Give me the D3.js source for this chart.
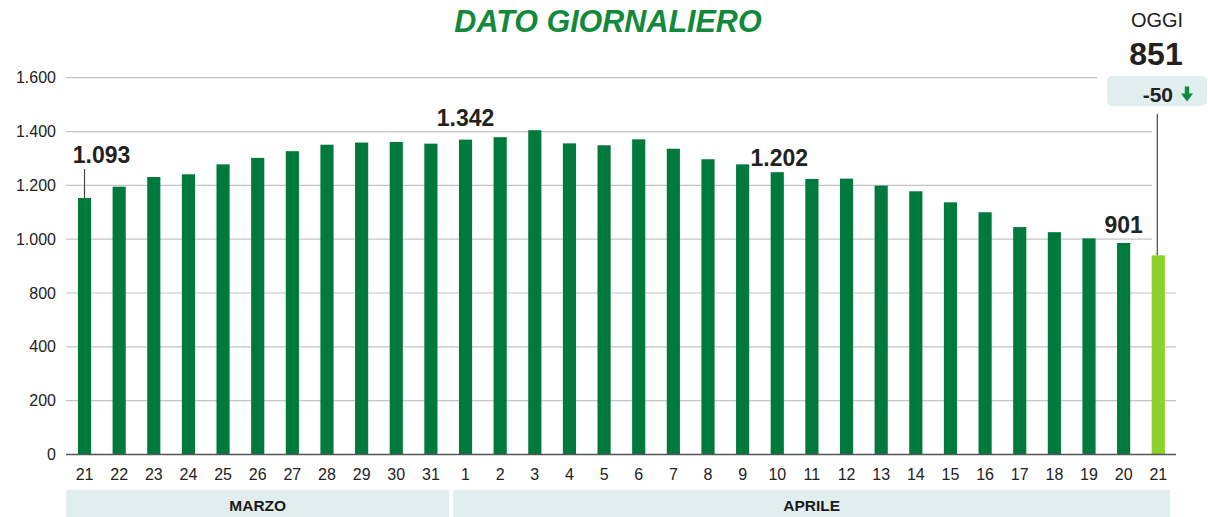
<!DOCTYPE html>
<html>
<head>
<meta charset="utf-8">
<script src="https://cdn.jsdelivr.net/npm/d3@7"></script>
<style>
  html, body { margin: 0; padding: 0; background: #fff; }
  svg { display: block; font-family: "Liberation Sans", Arial, Helvetica, sans-serif; }
</style>
</head>
<body>
<div id="chart"></div>
<script>
// daily values, 21 March -> 21 April
const days = ['21', '22', '23', '24', '25', '26', '27', '28', '29', '30', '31',
  '1', '2', '3', '4', '5', '6', '7', '8', '9', '10', '11', '12', '13', '14', '15',
  '16', '17', '18', '19', '20', '21'];
const values = [1153, 1195, 1231, 1241, 1278, 1302, 1327, 1351, 1359, 1361, 1355,
  1370, 1379, 1405, 1356, 1349, 1371, 1336, 1297, 1278, 1249, 1224, 1225, 1199,
  1178, 1137, 1100, 1045, 1026, 1003, 986, 940];
const yTicks = [0, 200, 400, 800, 1000, 1200, 1400, 1600];

const months = ['MARZO', 'APRILE'];
const monthFirst = [0, 11];
const monthLast = [10, 31];

// labelled bars
const noteIndex = [0, 11, 20, 30];
const noteValue = [1093, 1342, 1202, 901];

const todayValue = 851;
const todayDelta = -50;

const width = 1208;
const height = 517;
const green = '#007a3c';
const lime = '#8ed12c';
const boxFill = '#e1eeef';

const fmt = d3.formatLocale({ decimal: ',', thousands: '.', grouping: [3], currency: ['', '€'] }).format(',');

const svg = d3.select('#chart').append('svg')
  .attr('width', width)
  .attr('height', height);

const x = d3.scaleBand()
  .domain(d3.range(days.length))
  .range([67.2, 1175.6])
  .paddingInner(0.62)
  .paddingOuter(0.31);

const plotBottom = 454.5;
const plotTop = 77.7;
const y = d3.scaleLinear()
  .domain(yTicks)
  .range(yTicks.map((d, i) => plotBottom - i * (plotBottom - plotTop) / (yTicks.length - 1)));

const last = days.length - 1;
const cx = i => x(i) + x.bandwidth() / 2;
const leaderX = cx(last) - 1;
const boxLeft = 1107;

// gridlines
svg.append('g')
  .selectAll('line')
  .data(yTicks.filter(d => d > 0))
  .join('line')
  .attr('x1', 66)
  .attr('x2', d => {
    if (y(d) < 110) return boxLeft - 10;
    if (y(d) < y(values[last])) return leaderX - 5;
    return 1176;
  })
  .attr('y1', d => y(d))
  .attr('y2', d => y(d))
  .attr('stroke', '#c4c4c4')
  .attr('stroke-width', 1.2);

// y axis labels
const yAxis = svg.append('g')
  .attr('transform', 'translate(56,0)')
  .call(d3.axisLeft(y).tickValues(yTicks).tickSize(0).tickPadding(0).tickFormat(fmt));
yAxis.select('.domain').remove();
yAxis.selectAll('text')
  .attr('font-size', 16)
  .attr('font-family', '"Liberation Sans", Arial, sans-serif')
  .attr('fill', '#222');

// bars
svg.append('g')
  .selectAll('rect')
  .data(values)
  .join('rect')
  .attr('x', (d, i) => x(i))
  .attr('y', d => y(d))
  .attr('width', x.bandwidth())
  .attr('height', d => plotBottom - y(d))
  .attr('fill', (d, i) => i === last ? lime : green);

// baseline
svg.append('line')
  .attr('x1', 66).attr('x2', 1176)
  .attr('y1', plotBottom).attr('y2', plotBottom)
  .attr('stroke', '#555')
  .attr('stroke-width', 1.5);

// x axis labels
const xAxis = svg.append('g')
  .attr('transform', `translate(0,${plotBottom})`)
  .call(d3.axisBottom(x).tickSize(0).tickPadding(0).tickFormat(i => days[i]));
xAxis.select('.domain').remove();
xAxis.selectAll('text')
  .attr('dy', null)
  .attr('y', 25.5)
  .attr('font-size', 16)
  .attr('font-family', '"Liberation Sans", Arial, sans-serif')
  .attr('fill', '#222');

// month bands
const leftEdge = i => x(i) + x.bandwidth() / 2 - x.step() / 2;
const rightEdge = i => x(i) + x.bandwidth() / 2 + x.step() / 2;
const monthG = svg.append('g');
months.forEach((m, k) => {
  const x0 = k === 0 ? leftEdge(monthFirst[k]) - 1 : leftEdge(monthFirst[k]) + 5;
  const x1 = k === months.length - 1 ? rightEdge(monthLast[k]) - 5.5 : rightEdge(monthLast[k]) + 1;
  monthG.append('rect')
    .attr('x', x0).attr('y', 489.7)
    .attr('width', x1 - x0).attr('height', height - 489.7)
    .attr('fill', boxFill);
  monthG.append('text')
    .attr('x', (x0 + x1) / 2).attr('y', 510.5)
    .attr('text-anchor', 'middle')
    .attr('font-size', 15.5)
    .attr('font-weight', 'bold')
    .attr('fill', '#1a1a1a')
    .text(m);
});

// value notes
const notes = svg.append('g');
noteIndex.forEach((idx, k) => {
  let tx = cx(idx);
  let ty = y(values[idx]) - 10;
  if (k === 0) {
    tx = cx(idx) + 17;
    ty = y(values[idx]) - 35;
    notes.append('line')
      .attr('x1', cx(idx)).attr('x2', cx(idx))
      .attr('y1', ty + 6).attr('y2', y(values[idx]))
      .attr('stroke', '#444').attr('stroke-width', 1.2);
  } else if (k === 1) {
    ty = y(values[idx]) - 13.5;
  } else if (k === 2) {
    tx = cx(idx) + 2;
    ty = y(values[idx]) - 6;
  }
  notes.append('text')
    .attr('x', tx).attr('y', ty)
    .attr('text-anchor', 'middle')
    .attr('font-size', 23)
    .attr('font-weight', 'bold')
    .attr('fill', '#222')
    .text(fmt(noteValue[k]));
});

// title
svg.append('text')
  .attr('x', 608).attr('y', 32)
  .attr('text-anchor', 'middle')
  .attr('font-size', 30.5)
  .attr('font-weight', 'bold')
  .attr('font-style', 'italic')
  .attr('fill', '#12893b')
  .text('DATO GIORNALIERO');

// today block
svg.append('text')
  .attr('x', 1157).attr('y', 27)
  .attr('text-anchor', 'middle')
  .attr('font-size', 20)
  .attr('fill', '#222')
  .text('OGGI');
svg.append('text')
  .attr('x', 1156).attr('y', 65)
  .attr('text-anchor', 'middle')
  .attr('font-size', 32)
  .attr('font-weight', 'bold')
  .attr('fill', '#222')
  .text(todayValue);
svg.append('rect')
  .attr('x', boxLeft).attr('y', 76)
  .attr('width', 100).attr('height', 30)
  .attr('rx', 5)
  .attr('fill', boxFill);
svg.append('text')
  .attr('x', 1173).attr('y', 101.5)
  .attr('text-anchor', 'end')
  .attr('font-size', 21)
  .attr('font-weight', 'bold')
  .attr('fill', '#222')
  .text(todayDelta);

// down arrow
const ax = 1187;
const ay = 86.5;
const arrow = d3.path();
arrow.moveTo(ax - 2.2, ay);
arrow.lineTo(ax + 2.2, ay);
arrow.lineTo(ax + 2.2, ay + 7);
arrow.lineTo(ax + 6, ay + 7);
arrow.lineTo(ax, ay + 15);
arrow.lineTo(ax - 6, ay + 7);
arrow.lineTo(ax - 2.2, ay + 7);
arrow.closePath();
svg.append('path')
  .attr('d', arrow.toString())
  .attr('fill', '#0f8a3a');

// leader to today's bar
svg.append('line')
  .attr('x1', leaderX).attr('x2', leaderX)
  .attr('y1', 114).attr('y2', y(values[last]))
  .attr('stroke', '#444')
  .attr('stroke-width', 1.2);
</script>
</body>
</html>
